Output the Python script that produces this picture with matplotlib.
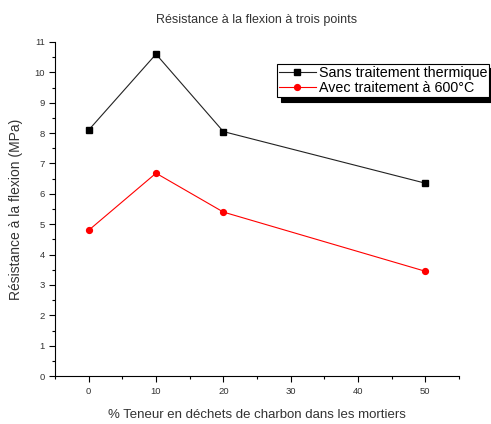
import matplotlib
matplotlib.use("Agg")
import matplotlib.pyplot as plt
from matplotlib.ticker import MultipleLocator

plt.rcParams["font.family"] = ["Liberation Sans", "DejaVu Sans"]

teneur = [0, 10, 20, 50]
sans_traitement = [8.1, 10.6, 8.05, 6.35]
avec_traitement = [4.8, 6.68, 5.4, 3.45]

TEXT = "#333333"

fig = plt.figure(figsize=(4.91, 4.24), dpi=100)
ax = fig.add_axes([0.112, 0.113, 0.823, 0.788])

ax.plot(teneur, sans_traitement, color="#222222", lw=0.8, marker="s", ms=4.5,
        mfc="black", mec="black", label="Sans traitement thermique")
ax.plot(teneur, avec_traitement, color="red", lw=0.8, marker="o", ms=4.2,
        label="Avec traitement à 600°C")

ax.set_xlim(-5, 55)
ax.set_ylim(0, 11)
ax.xaxis.set_major_locator(MultipleLocator(10))
ax.xaxis.set_minor_locator(MultipleLocator(5))
ax.yaxis.set_major_locator(MultipleLocator(1))
ax.yaxis.set_minor_locator(MultipleLocator(0.5))
ax.tick_params(which="major", length=4, width=0.8, labelsize=6.8, labelcolor=TEXT)
ax.tick_params(which="minor", length=2, width=0.8)
for side in ("top", "right"):
    ax.spines[side].set_visible(False)

ax.set_title("Résistance à la flexion à trois points", fontsize=9, color=TEXT, pad=14)
ax.set_xlabel("% Teneur en déchets de charbon dans les mortiers", fontsize=9.5,
              color=TEXT, labelpad=10)
ax.set_ylabel("Résistance à la flexion (MPa)", fontsize=10, color=TEXT, labelpad=8)

leg = ax.legend(loc="upper right", bbox_to_anchor=(1.075, 0.935), fontsize=10.3,
                frameon=True, fancybox=False,
                shadow={"color": "black", "alpha": 1.0, "ox": 3, "oy": -3},
                edgecolor="black", handlelength=2.6, handletextpad=0.2,
                borderpad=0.15, labelspacing=0.1, borderaxespad=0)
leg.get_frame().set_linewidth(0.8)

fig.savefig("out.png", dpi=100, facecolor="white")
